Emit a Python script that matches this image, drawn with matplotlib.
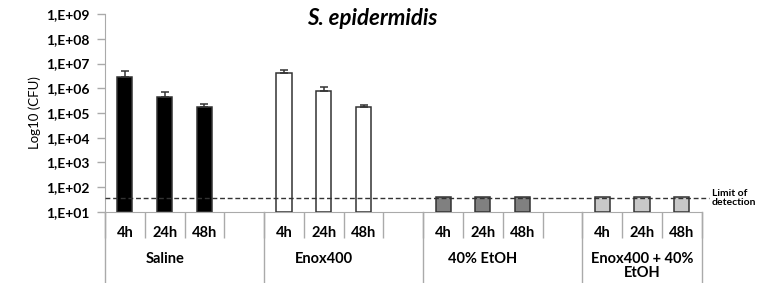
import numpy as np
import matplotlib
matplotlib.use("Agg")
import matplotlib.pyplot as plt
import matplotlib.transforms as mtransforms

plt.rcParams['font.family'] = ['Lato', 'DejaVu Sans']

# data (CFU)
groups = ["Saline", "Enox400", "40% EtOH", "Enox400 + 40%\nEtOH"]
times = ["4h", "24h", "48h"]
saline = [2.8e6, 4.3e5, 1.8e5]
saline_err = [2.2e6, 2.7e5, 0.6e5]
enox = [4.0e6, 7.8e5, 1.7e5]
enox_err = [1.6e6, 3.2e5, 0.4e5]
etoh = [40, 40, 40]
combo = [40, 40, 40]
lod = 38
colors = ["#000000", "#ffffff", "#808080", "#c8c8c8"]

values = [saline, enox, etoh, combo]
errors = [saline_err, enox_err, [0, 0, 0], [0, 0, 0]]

fig = plt.figure(figsize=(7.59, 2.83), dpi=100)
ax = fig.add_axes([0.1383, 0.2509, 0.7862, 0.6996])
ax.set_yscale('log')
ax.set_ylim(10, 1e9)
ax.set_xlim(-0.5, 14.5)

xpos = []
for g in range(4):
    x = np.arange(3) + 4 * g
    xpos.extend(x)
    v = np.array(values[g])
    ax.bar(x, v - 10, bottom=10, width=0.38, color=colors[g],
           edgecolor="#333333", linewidth=1.1, zorder=3)
    if max(errors[g]) > 0:
        ax.errorbar(x, v, yerr=[np.zeros(3), errors[g]], fmt='none',
                    ecolor="#333333", elinewidth=1.1, capsize=3, capthick=1.1, zorder=4)

# limit of detection line
tr = mtransforms.blended_transform_factory(ax.transAxes, ax.transData)
ax.plot([0, 1.012], [lod, lod], ls=(0, (3.5, 2)), color="#333333", lw=1.0,
        transform=tr, clip_on=False, zorder=5)
ax.text(1.017, lod, "Limit of\ndetection", transform=tr, fontsize=7.5,
        fontweight='bold', va='center', ha='left', linespacing=1.0)

# y axis
ax.set_yticks([10.0 ** k for k in range(1, 10)])
ax.set_yticklabels(["1,E+%02d" % k for k in range(1, 10)], fontsize=10, fontweight='bold')
ax.yaxis.set_minor_locator(matplotlib.ticker.NullLocator())
ax.tick_params(axis='y', length=6, color="#aaaaaa", width=1, pad=5)
ax.set_ylabel("Log10 (CFU)", fontsize=9.5, labelpad=4)

# x axis
ax.set_xticks(xpos)
ax.set_xticklabels(times * 4, fontsize=10.5, fontweight='bold')
ax.set_xticks(np.arange(-0.5, 15, 1.0), minor=True)
ax.tick_params(axis='x', which='major', length=0, pad=10)
ax.tick_params(axis='x', which='minor', length=19, color="#aaaaaa", width=1)

trx = mtransforms.blended_transform_factory(ax.transData, ax.transAxes)
for b in [-0.5, 3.5, 7.5, 11.5, 14.5]:
    ax.plot([b, b], [0, -0.36], color="#aaaaaa", lw=1, transform=trx, clip_on=False)
for g, name in enumerate(groups):
    ax.text(4 * g + 1, -0.2, name, transform=trx, ha='center', va='top',
            fontsize=10.5, fontweight='bold', linespacing=1.05)

for s in ['top', 'right']:
    ax.spines[s].set_visible(False)
ax.spines['left'].set_color("#aaaaaa")
ax.spines['bottom'].set_color("#aaaaaa")

fig.text(0.49, 0.935, "S. epidermidis", fontsize=16, fontweight='bold', fontstyle='italic',
         ha='center', va='center')

fig.savefig("out.png", dpi=100)
